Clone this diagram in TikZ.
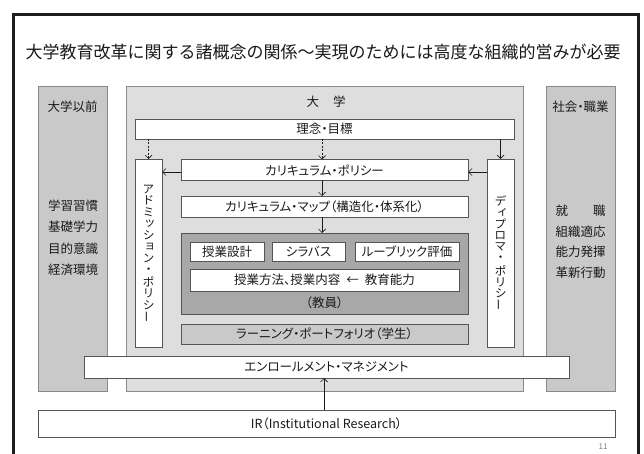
\documentclass[tikz,border=0pt]{standalone}
\usepackage{fontspec}
\setmainfont{Noto Sans CJK JP}[CharacterWidth=AlternateProportional]
\newfontfamily\titlefont{Noto Sans CJK JP}
\usetikzlibrary{arrows.meta}
\definecolor{txt}{HTML}{1A1A1A}
\definecolor{colfill}{HTML}{C9C9C9}
\definecolor{unifill}{HTML}{DEDEDE}
\definecolor{darkfill}{HTML}{A8A8A8}
\definecolor{edgegray}{HTML}{8A8A8A}
\definecolor{boxedge}{HTML}{555555}
\definecolor{framec}{HTML}{1E1E1E}
\tikzset{
  every node/.style={inner sep=0pt, outer sep=0pt, text=txt, font=\fontsize{12.5}{15}\selectfont},
  colbox/.style={draw=edgegray, fill=colfill, line width=0.8pt},
  unibox/.style={draw=edgegray, fill=unifill, line width=0.8pt},
  wbox/.style={draw=boxedge, fill=white, line width=0.8pt},
  darkbox/.style={draw=boxedge, fill=darkfill, line width=0.8pt},
  lpbox/.style={draw=boxedge, fill=colfill, line width=0.8pt},
  vch/.style={font=\fontsize{11.5}{12}\selectfont},
  arr/.style={draw=txt, line width=0.7pt, -{Straight Barb[length=3.5pt,width=7pt]}},
  darr/.style={arr, dash pattern=on 2pt off 1.5pt},
}
\begin{document}
\begin{tikzpicture}[x=1pt,y=-1pt]
\useasboundingbox (0,0) rectangle (644,454);
\fill[white] (0,0) rectangle (644,454);
% slide frame
\draw[framec, line width=3pt] (13,470) -- (13,15) -- (638,15) -- (638,470);
% title
\node (title) at (323,52) {\titlefont\fontsize{17}{20}\selectfont 大学教育改革に関する諸概念の関係〜実現のためには高度な組織的営みが必要};
% columns
\node[colbox, minimum width=69pt, minimum height=305pt] (pre) at (72.5,238.5) {};
\node[unibox, minimum width=397pt, minimum height=305pt] (univ) at (324.5,238.5) {};
\node[colbox, minimum width=69pt, minimum height=305pt] (soc) at (580.5,238.5) {};
\node (pret) at (72.5,107) {大学以前};
\node[align=center, font=\fontsize{12.5}{21.5}\selectfont] (prel) at (73,238) {学習習慣\\基礎学力\\目的意識\\経済環境};
\node (soct) at (580.5,107) {社会・職業};
\node[align=center, font=\fontsize{12.5}{20.5}\selectfont] (socl) at (580.5,242) {\makebox[50pt][s]{就\hfill 職}\\組織適応\\能力発揮\\革新行動};
\node (univt) at (326,102) {大\hspace{14pt}学};
% inner boxes
\node[wbox, minimum width=379pt, minimum height=20pt] (rinen) at (324.5,129) {理念・目標};
\node[wbox, minimum width=27pt, minimum height=188pt] (adm) at (148.5,253) {};
\foreach \c/\dx/\dy/\r [count=\i] in {ア/0/0/0, ド/0/0/0, ミ/0/0/0, ッ/1.5/-0.3/0, シ/0/0/0, ョ/1.5/-0.3/0, ン/0/0/0, ・/0/0/0, ポ/0/0/0, リ/0/0/0, シ/0/0/0, ー/0/0/90}
  \node[vch, rotate=\r] (adm\i) at ({148.5+\dx},{189.2+(\i-1)*11.6+\dy}) {\c};
\node[wbox, minimum width=27pt, minimum height=188pt] (dip) at (500.5,253) {};
\foreach \c/\dx/\dy/\r [count=\i] in {デ/0/0/0, ィ/1.5/-0.3/0, プ/0/0/0, ロ/0/0/0, マ/0/0/0, ・/0/0/0, ポ/0/0/0, リ/0/0/0, シ/0/0/0, ー/0/0/90}
  \node[vch, rotate=\r] (dip\i) at ({500.5+\dx},{200.8+(\i-1)*11.6+\dy}) {\c};
\node[wbox, minimum width=287pt, minimum height=21pt] (cp) at (324.5,170) {カリキュラム・ポリシー};
\node[wbox, minimum width=287pt, minimum height=21pt] (cm) at (324.5,206.5) {カリキュラム・マップ（構造化・体系化）};
\node[darkbox, minimum width=287pt, minimum height=81pt] (teach) at (324.5,273.5) {};
\node[wbox, minimum width=74pt, minimum height=19pt] (jd) at (227,251.5) {授業設計};
\node[wbox, minimum width=73pt, minimum height=19pt] (syl) at (308.5,251.5) {シラバス};
\node[wbox, minimum width=104pt, minimum height=19pt] (rub) at (407,251.5) {ルーブリック評価};
\node[wbox, minimum width=269pt, minimum height=22pt] (meth) at (324.5,280) {授業方法、授業内容\hspace{6pt}←\hspace{6pt}教育能力};
\node (kyoin) at (324.5,303) {（教員）};
\node[lpbox, minimum width=287pt, minimum height=20pt] (lp) at (324.5,334) {ラーニング・ポートフォリオ（学生）};
\node[wbox, minimum width=485pt, minimum height=22pt] (em) at (326.5,367) {エンロールメント・マネジメント};
\node[wbox, minimum width=577pt, minimum height=27pt] (ir) at (326.5,423.5) {IR（Institutional Research）};
\node[text=gray, font=\fontsize{8}{9}\selectfont] (pg) at (603,447) {11};
% connectors
\draw[darr] (rinen.south -| adm.north) -- (adm.north);
\draw[darr] (rinen.south -| 322,0) -- (cp.north -| 322,0);
\draw[arr] (rinen.south -| dip.north) -- (dip.north);
\draw[arr] (cp.west |- 0,172) -- (adm.east |- 0,172);
\draw[arr] (dip.west |- 0,172) -- (cp.east |- 0,172);
\draw[arr] (cp.south -| 322,0) -- (cm.north -| 322,0);
\draw[arr] (cm.south -| 322,0) -- (teach.north -| 322,0);
\draw[arr] (ir.north -| 324,0) -- (em.south -| 324,0);
\end{tikzpicture}
\end{document}
